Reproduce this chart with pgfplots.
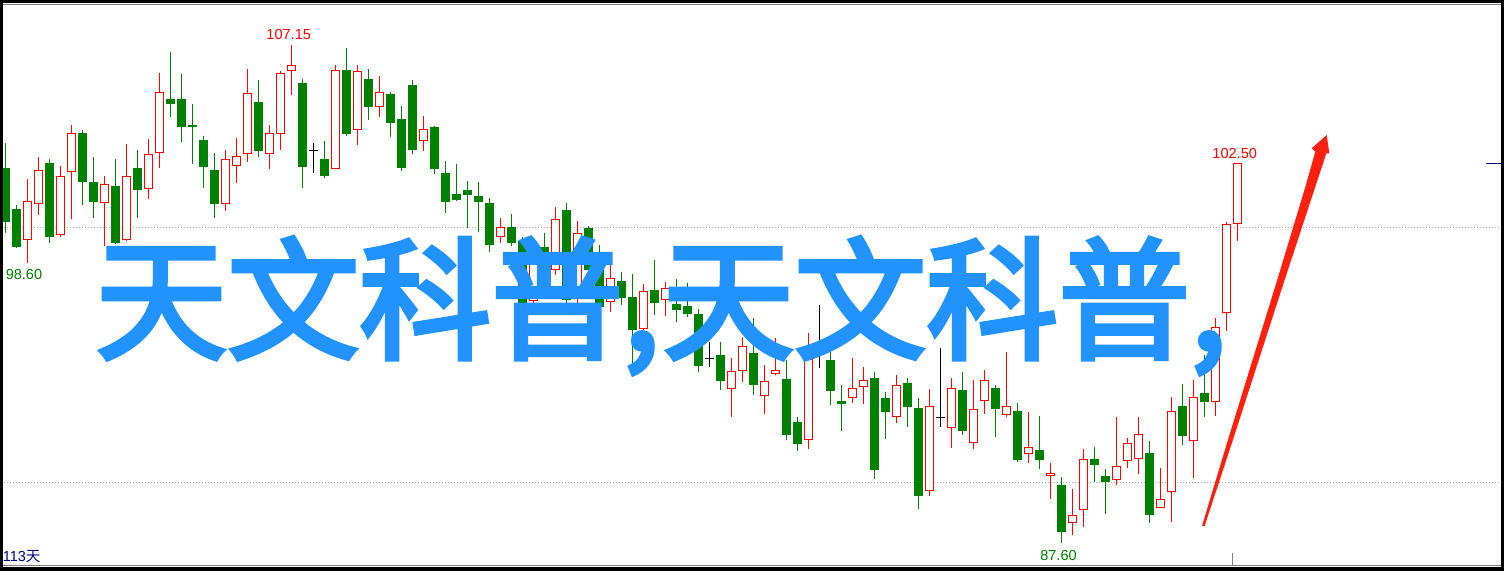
\documentclass[border=0pt]{standalone}
\usepackage{pgfplots}
\pgfplotsset{compat=1.18}
\usepackage{pgfplotstable}
\usepackage{fontspec}
\setmainfont{Liberation Sans}
\newfontfamily\cjk{Noto Sans CJK SC}
\newfontfamily\cjkbig[FakeBold=3.5]{Noto Sans CJK SC}
\definecolor{cred}{RGB}{255,0,0}
\definecolor{cgreen}{RGB}{0,128,0}
\definecolor{bigblue}{RGB}{34,146,255}
\definecolor{arrowred}{RGB}{255,32,16}
\definecolor{navyc}{RGB}{0,0,128}
\definecolor{gridgrey}{RGB}{175,175,175}
\definecolor{frgrey}{RGB}{128,128,128}

% i open high low close
\pgfplotstableread{
i o h l c
2 99.48 101.88 98.60 101.01
3 100.89 102.75 100.47 102.22
5 99.67 102.39 99.61 101.99
6 102.17 104.00 100.31 103.67
9 100.93 102.00 99.27 101.67
11 99.48 103.25 99.44 101.99
13 101.48 103.45 101.10 102.85
14 102.89 106.04 102.33 105.28
20 100.89 103.02 100.64 102.65
21 102.38 103.49 101.74 102.77
22 102.85 106.20 102.55 105.24
24 102.87 104.00 102.29 103.67
25 103.66 106.12 103.02 106.03
26 106.11 107.15 105.18 106.34
30 102.29 106.34 102.29 106.15
32 103.79 106.34 103.23 106.11
34 104.69 105.92 104.33 105.28
38 103.36 104.35 102.99 103.83
45 99.60 100.35 99.38 99.99
48 97.10 99.49 96.87 99.28
50 98.30 100.78 98.12 100.30
52 97.29 100.24 97.00 99.75
55 97.05 98.58 96.68 97.99
58 95.99 97.76 95.96 97.49
60 97.13 97.84 96.51 97.60
66 93.64 94.85 92.56 94.34
67 94.34 95.70 93.93 95.33
69 93.38 94.59 92.68 93.95
70 94.22 95.64 94.18 94.38
73 91.65 95.83 91.28 94.81
77 93.29 94.86 93.11 93.67
78 93.71 94.51 93.07 93.99
81 92.54 94.20 92.33 93.79
84 89.64 93.65 89.46 92.97
86 92.13 94.08 91.35 93.67
88 91.52 94.00 91.28 92.88
89 93.16 94.39 92.68 93.99
91 92.62 95.10 92.54 92.97
93 91.09 92.75 90.73 91.36
95 90.22 90.73 89.35 90.34
97 88.39 89.71 87.91 88.69
98 88.89 91.31 88.22 90.89
101 90.07 92.55 89.89 90.63
102 90.81 91.73 90.56 91.52
103 90.89 92.55 90.33 91.87
105 88.97 90.55 88.97 89.32
106 89.60 93.33 88.44 92.77
108 91.60 94.00 90.17 93.32
110 93.15 96.42 92.60 96.07
111 96.62 100.21 95.93 100.11
112 100.11 102.50 99.46 102.50
}\upcandles

\pgfplotstableread{
i o h l c
0 102.31 103.29 99.76 100.20
1 100.69 100.86 99.16 99.23
4 102.50 102.67 99.38 99.62
7 103.67 103.80 100.87 101.78
8 101.75 102.75 100.36 100.99
10 101.59 102.65 99.32 99.38
12 102.30 103.02 100.36 101.46
15 105.01 106.86 104.33 104.84
16 105.01 106.00 103.35 103.91
17 104.00 104.81 102.48 103.93
18 103.40 103.57 101.54 102.36
19 102.22 102.89 100.36 100.91
23 104.90 105.76 102.76 102.98
27 105.65 105.80 101.54 102.36
29 102.65 103.37 101.93 102.01
31 106.15 107.02 103.56 103.66
33 105.79 106.20 104.21 104.72
35 105.22 105.29 103.54 104.09
36 104.24 104.75 102.21 102.33
37 105.57 105.76 102.86 103.03
39 103.92 103.96 102.09 102.29
40 102.12 102.59 100.56 100.99
41 101.29 102.47 101.02 101.07
42 101.44 101.80 99.96 101.27
43 101.22 101.76 99.82 100.99
44 100.94 101.14 99.03 99.31
46 99.99 100.51 99.25 99.38
47 99.44 99.61 96.50 96.75
49 99.20 99.76 97.70 98.00
51 100.67 100.93 97.03 97.14
53 99.96 100.04 97.90 98.31
54 98.90 99.29 96.75 96.87
56 97.88 98.24 96.94 97.23
57 97.25 98.16 94.65 95.96
59 97.53 98.71 96.55 97.03
61 96.98 97.96 96.29 96.76
62 96.90 97.80 96.48 96.60
63 96.59 96.78 94.33 94.56
65 94.98 95.50 93.61 93.97
68 95.06 96.42 93.41 93.82
71 94.04 94.78 91.65 91.85
72 92.35 92.54 91.23 91.50
75 94.78 95.76 93.03 93.58
76 93.18 93.80 92.01 93.07
79 94.07 94.30 90.13 90.48
80 93.29 93.53 91.70 92.76
82 93.88 94.08 92.17 92.95
83 92.90 93.29 88.95 89.46
87 93.61 94.31 91.83 92.01
90 93.67 93.80 91.78 92.88
92 92.78 93.10 90.80 90.87
94 91.25 92.59 90.50 90.87
96 89.88 90.20 87.60 88.05
99 90.90 91.37 90.01 90.68
100 90.24 90.51 88.76 90.01
104 91.14 91.61 88.40 88.72
107 92.98 93.84 91.45 91.82
109 93.48 94.98 92.56 93.15
}\downcandles

\pgfplotstableread{
i o h l c
28 103.01 103.28 102.13 103.01
64 94.86 95.50 94.52 94.86
74 95.30 96.94 94.48 95.30
85 92.54 95.25 92.17 92.54
}\dojicandles

\begin{document}
\begin{tikzpicture}
% dotted grid lines (100 and 90)
\begin{scope}[x=0.75pt,y=-0.75pt,yshift=428.25pt]
\draw[gridgrey, line width=0.75pt, dash pattern=on 0.75pt off 1.5pt] (4,227.5)--(1500,227.5);
\draw[gridgrey, line width=0.75pt, dash pattern=on 0.75pt off 1.5pt] (4,482.5)--(1500,482.5);
\end{scope}

\begin{axis}[at={(0,0)}, anchor=south west, width=1128pt, height=428.25pt,
  scale only axis, xmin=-0.5, xmax=136.227, ymin=86.510, ymax=108.902,
  hide axis, clip=true]
% wicks
\addplot[draw=none, mark=none, error bars/.cd, y dir=plus, y explicit, error mark=none,
  error bar style={draw=cred, line width=0.75pt}]
  table[x=i, y=l, y error expr=\thisrow{h}-\thisrow{l}] {\upcandles};
\addplot[draw=none, mark=none, error bars/.cd, y dir=plus, y explicit, error mark=none,
  error bar style={draw=cgreen, line width=0.75pt}]
  table[x=i, y=l, y error expr=\thisrow{h}-\thisrow{l}] {\downcandles};
\addplot[draw=none, mark=none, error bars/.cd, y dir=plus, y explicit, error mark=none,
  error bar style={draw=black, line width=0.75pt}]
  table[x=i, y=l, y error expr=\thisrow{h}-\thisrow{l}] {\dojicandles};
% bodies
\addplot[draw=none, mark=none, error bars/.cd, y dir=plus, y explicit, error mark=none,
  error bar style={draw=cred, line width=6.2pt}]
  table[x=i, y=o, y error expr=\thisrow{c}-\thisrow{o}] {\upcandles};
\addplot[draw=none, mark=none, error bars/.cd, y dir=plus, y explicit, error mark=none,
  error bar style={draw=white, line width=4.7pt}]
  table[x=i, y expr=\thisrow{o}+0.04, y error expr=\thisrow{c}-\thisrow{o}-0.08] {\upcandles};
\addplot[draw=none, mark=none, error bars/.cd, y dir=plus, y explicit, error mark=none,
  error bar style={draw=cgreen, line width=6.2pt}]
  table[x=i, y=c, y error expr=\thisrow{o}-\thisrow{c}] {\downcandles};
\addplot[draw=none, mark=none, error bars/.cd, y dir=plus, y explicit, error mark=none,
  error bar style={draw=black, line width=6.2pt}]
  table[x=i, y expr=\thisrow{o}-0.02, y error expr=0.04] {\dojicandles};
\end{axis}

\begin{scope}[x=0.75pt,y=-0.75pt,yshift=428.25pt]
% big overlay text
\node[anchor=base west, inner sep=0pt, text=bigblue] at (95,349)
  {\cjkbig\fontsize{99pt}{99pt}\selectfont 天文科普,};
\node[anchor=base west, inner sep=0pt, text=bigblue] at (662,349)
  {\cjkbig\fontsize{99pt}{99pt}\selectfont 天文科普,};
% red arrow (straight, tapered)
\fill[arrowred] (1202,526) -- (1227.9,440) -- (1277.2,280) -- (1305.9,185) -- (1315.3,151.5)
  -- (1311.7,148.3) -- (1326.7,135) -- (1329.3,153.3) -- (1326.3,153.5)
  -- (1315.9,185) -- (1284.6,280) -- (1232.9,440) -- (1204.6,526) -- cycle;
% labels
\node[anchor=base, inner sep=0pt, text=cred, font=\fontsize{10.9pt}{12pt}\selectfont] at (288.7,39.3) {107.15};
\node[anchor=base, inner sep=0pt, text=cred, font=\fontsize{10.9pt}{12pt}\selectfont] at (1234.7,158.3) {102.50};
\node[anchor=base west, inner sep=0pt, text=cgreen, font=\fontsize{10.9pt}{12pt}\selectfont] at (5.5,280) {98.60};
\node[anchor=base, inner sep=0pt, text=cgreen, font=\fontsize{10.9pt}{12pt}\selectfont] at (1058.5,561) {87.60};
\node[anchor=base west, inner sep=0pt, text=navyc, font=\fontsize{10.9pt}{12pt}\selectfont] at (2.5,561.5) {113{\cjk 天}};
% right marker & bottom tick
\draw[navyc, line width=0.9pt] (1486,163.5)--(1501,163.5);
\draw[frgrey, line width=0.9pt] (1232.5,553)--(1232.5,566);
% frame
\draw[frgrey, line width=0.9pt] (0,4.8)--(1504,4.8);
\draw[frgrey, line width=0.9pt] (0,565.3)--(1504,565.3);
\fill[black] (0,0) rectangle (1504,3.5);
\fill[black] (0,0) rectangle (3.2,571);
\fill[black] (1500.8,0) rectangle (1504,571);
\fill[black] (0,566.8) rectangle (1504,571);
\end{scope}
\pgfresetboundingbox
\path (0,0) rectangle (1128pt,428.25pt);
\end{tikzpicture}
\end{document}
